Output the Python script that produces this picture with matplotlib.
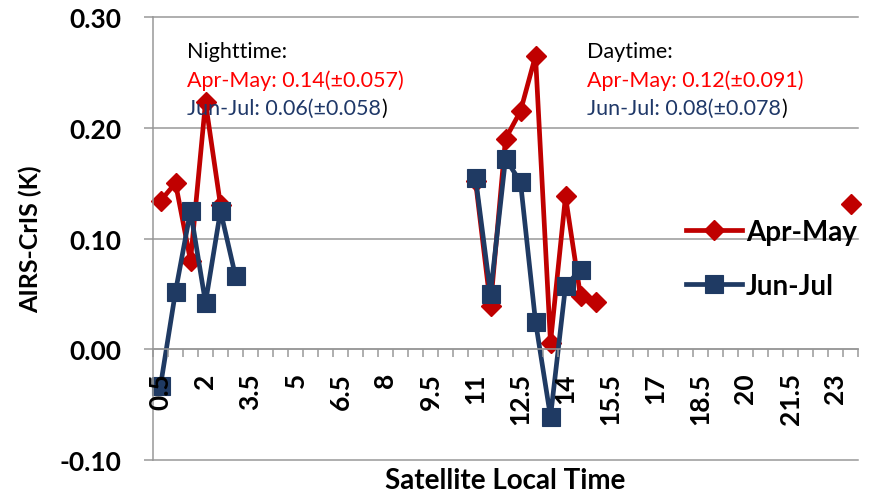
import numpy as np
import pandas as pd
import matplotlib.pyplot as plt

plt.rcParams['font.family'] = ['Lato', 'DejaVu Sans']
plt.rcParams['font.weight'] = 'bold'

# AIRS minus CrIS brightness temperature difference by local time (K)
hours_apr = [0.5, 1.0, 1.5, 2.0, 2.5,
             11.0, 11.5, 12.0, 12.5, 13.0, 13.5, 14.0, 14.5, 15.0, 23.5]
diff_apr = [0.134, 0.150, 0.080, 0.223, 0.130,
            0.152, 0.039, 0.190, 0.215, 0.265, 0.006, 0.138, 0.048, 0.043, 0.131]

hours_jun = [0.5, 1.0, 1.5, 2.0, 2.5, 3.0,
             11.0, 11.5, 12.0, 12.5, 13.0, 13.5, 14.0, 14.5]
diff_jun = [-0.033, 0.052, 0.125, 0.042, 0.125, 0.066,
            0.155, 0.050, 0.172, 0.151, 0.025, -0.061, 0.057, 0.072]

tick_labels = ['0.5', '2', '3.5', '5', '6.5', '8', '9.5', '11', '12.5', '14',
               '15.5', '17', '18.5', '20', '21.5', '23']
yticks = [-0.10, 0.00, 0.10, 0.20, 0.30]

night_stats = ['Nighttime:', 'Apr-May: 0.14(\u00b10.057)', 'Jun-Jul: 0.06(\u00b10.058']
day_stats = ['Daytime:', 'Apr-May: 0.12(\u00b10.091)', 'Jun-Jul: 0.08(\u00b10.078']

red = '#C00000'
navy = '#1F3A63'
navy_txt = '#1F3868'
gray = '#989898'

fig = plt.figure(figsize=(8.79, 5.02), dpi=100)
ax = fig.add_axes([153/879, 41/502, 705/879, 443/502])

# half-hour category grid, missing times leave gaps in the lines
cats = np.arange(0.5, 24.0, 0.5)
s_apr = pd.Series(diff_apr, index=hours_apr).reindex(cats)
s_jun = pd.Series(diff_jun, index=hours_jun).reindex(cats)

for v in yticks:
    ax.axhline(v, color=gray, lw=1.1, zorder=1, clip_on=False)

ax.plot(cats, s_apr.values, color=red, lw=3.4, marker='D', ms=10.5,
        mfc=red, mec=red, label='Apr-May', zorder=2, clip_on=False)
ax.plot(cats, s_jun.values, color=navy, lw=3.4, marker='s', ms=12.5,
        mfc=navy, mec=navy, mew=0.8, label='Jun-Jul', zorder=2, clip_on=False)
ax.set_axisbelow(False)

ax.set_xlim(0.25, 23.75)
ax.set_ylim(-0.10, 0.30)

for side in ['top', 'right']:
    ax.spines[side].set_visible(False)
ax.spines['bottom'].set_position(('data', 0))
ax.spines['bottom'].set_color(gray)
ax.spines['left'].set_color(gray)
ax.spines['bottom'].set_linewidth(1.1)
ax.spines['left'].set_linewidth(1.1)

ax.set_yticks(yticks)
ax.set_yticklabels([f'{v:.2f}' for v in yticks], fontweight='bold')
ax.tick_params(axis='y', direction='out', length=6.5, width=1.1, color=gray,
               pad=16, labelsize=19)

ax.set_xticks([float(s) for s in tick_labels])
ax.set_xticklabels(tick_labels, rotation=90, fontweight='bold')
ax.set_xticks(np.arange(0.25, 23.8, 0.5), minor=True)
ax.tick_params(axis='x', which='major', length=0, pad=16.5, labelsize=19)
ax.tick_params(axis='x', which='minor', direction='out', length=5.8,
               width=1.1, color=gray)

ax.set_ylabel('AIRS-CrIS (K)', fontsize=18, fontweight='bold')
ax.yaxis.set_label_coords(-0.157, 0.5)
ax.set_xlabel('Satellite Local Time', fontsize=20, fontweight='bold')
ax.xaxis.set_label_coords(0.5, -0.016)

ax.legend(loc='center left', bbox_to_anchor=(0.756, 0.454), frameon=False,
          prop={'size': 20, 'weight': 'bold'}, handlelength=2.0,
          handletextpad=0.15, labelspacing=1.0, borderpad=0, borderaxespad=0)

# summary statistics, last paren of the Jun-Jul line stays black
for x0, lines in [(187, night_stats), (587, day_stats)]:
    colors = ['black', '#FF0000', navy_txt]
    for k, (txt, c) in enumerate(zip(lines, colors)):
        t = fig.text(x0/879, 1 - [58, 87, 115][k]/502, txt, color=c,
                     fontsize=15.5, fontweight='normal', va='baseline')
    ax.annotate(')', xy=(1, 0), xycoords=t, va='bottom', ha='left',
                fontsize=15.5, fontweight='normal', color='black',
                annotation_clip=False)

fig.savefig('out.png', dpi=100)
